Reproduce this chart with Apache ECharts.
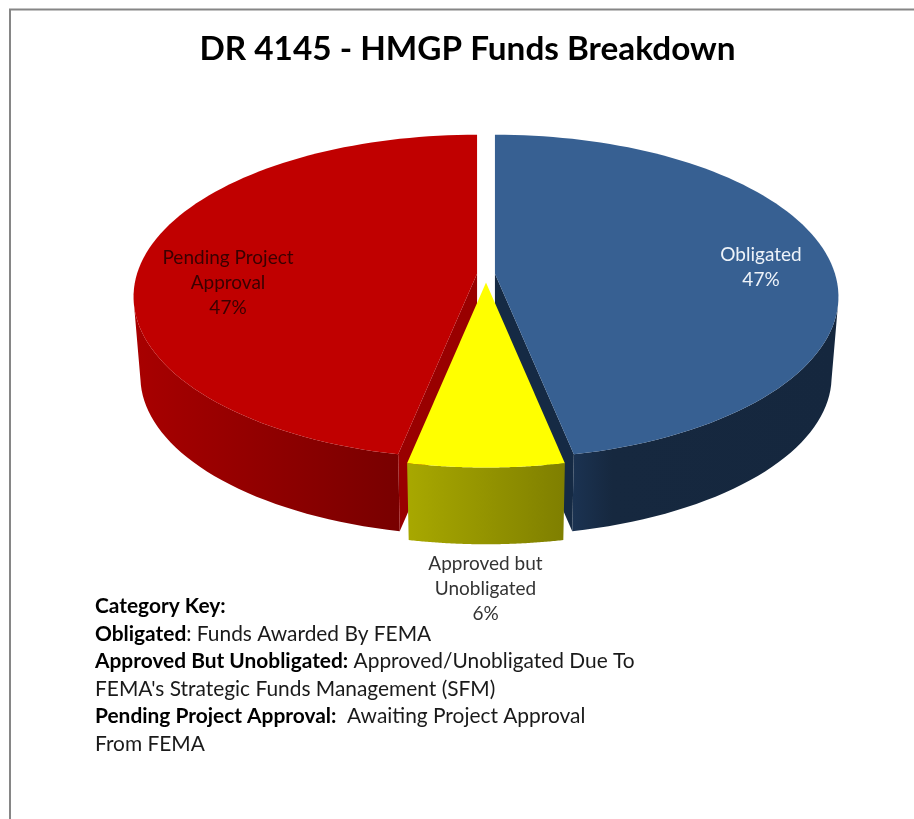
<!DOCTYPE html>
<html>
<head>
<meta charset="utf-8">
<title>DR 4145 - HMGP Funds Breakdown</title>
<style>
  html, body { margin: 0; padding: 0; background: #fff; }
  #chart { width: 914px; height: 819px; }
</style>
<script src="https://cdn.jsdelivr.net/npm/echarts@6/dist/echarts.min.js"></script>
</head>
<body>
<div id="chart"></div>
<script>
const sliceNames = ['Obligated', 'Approved but\nUnobligated', 'Pending Project\nApproval'];
const sliceValues = [46.8, 6.4, 46.8];

const keyLines = [
  [['b', 'Category Key:']],
  [['b', 'Obligated'], ['r', ': Funds Awarded By FEMA']],
  [['b', 'Approved But Unobligated:'], ['r', ' Approved/Unobligated Due To']],
  [['r', "FEMA's Strategic Funds Management (SFM)"]],
  [['b', 'Pending Project Approval:'], ['r', '  Awaiting Project Approval']],
  [['r', 'From FEMA']],
];

const FONT = 'Lato, sans-serif';

const topColors = ['#376092', '#ffff00', '#c00000'];
const faceColors = ['#152a44', '#7f7f00', '#990000'];
const wallStops = [
  [[0, '#1b3352'], [0.15, '#16283f'], [1, '#15273e']],
  [[0, '#a8a800'], [1, '#7f7f00']],
  [[0, '#a80000'], [1, '#780000']],
];
const labelColors = ['#eef3f9', '#333333', '#3a0000'];
const labelCenters = [[761, 267], [485.5, 589], [228, 283]];

// tilted pie geometry, the circle goes through a small perspective
const PIE = { cx: 486, cy: 297.5, rx: 343.5, ry: 162, persp: 0.142, depth: 80, shrink: 0.98, popX: 9, popY: 8 };

const total = sliceValues.reduce((a, b) => a + b, 0);

function project(theta, radius) {
  const u = Math.sin(theta) * radius;
  const v = -Math.cos(theta) * radius;
  const w = 1 - PIE.persp * v;
  const ax = PIE.rx * Math.sqrt(1 - PIE.persp * PIE.persp);
  return [ax * u / w, PIE.ry * (v - PIE.persp) / w];
}

function topPt(p, ox, oy) {
  return [PIE.cx + ox + p[0], PIE.cy + oy + p[1]];
}

function bottomPt(p, ox, oy) {
  return [PIE.cx + ox + p[0] * PIE.shrink, PIE.cy + oy + p[1] * PIE.shrink + PIE.depth];
}

function renderSlice(params, api) {
  const idx = params.dataIndex;
  let before = 0;
  for (let i = 0; i < idx; i++) before += sliceValues[i];
  const start = before / total * Math.PI * 2;
  const end = (before + api.value(0)) / total * Math.PI * 2;
  const mid = (start + end) / 2;
  const ox = Math.sin(mid) * PIE.popX;
  const oy = -Math.cos(mid) * PIE.popY;

  const steps = 90;
  const apex = project(0, 0);
  const top = [topPt(apex, ox, oy)];
  const frontTop = [];
  const frontBottom = [];
  for (let i = 0; i <= steps; i++) {
    const t = start + (end - start) * i / steps;
    const p = project(t, 1);
    top.push(topPt(p, ox, oy));
    // only the front part of the rim shows a wall
    if (-Math.cos(t) >= PIE.persp) {
      frontTop.push(topPt(p, ox, oy));
      frontBottom.unshift(bottomPt(p, ox, oy));
    }
  }

  const children = [];
  children.push({
    type: 'polygon',
    z2: idx === 1 ? 3 : 1,
    shape: { points: frontTop.concat(frontBottom) },
    style: { fill: new echarts.graphic.LinearGradient(0, 0, 1, 0, wallStops[idx].map(s => ({ offset: s[0], color: s[1] }))) },
  });
  // cut faces: the narrow front slice turns them away from the viewer
  if (end - start > Math.PI / 2) {
    [start, end].forEach((t) => {
      if (-Math.cos(t) < PIE.persp) return;
      const p = project(t, 1);
      children.push({
        type: 'polygon',
        z2: 2,
        shape: { points: [topPt(apex, ox, oy), topPt(p, ox, oy), bottomPt(p, ox, oy), bottomPt(apex, ox, oy)] },
        style: { fill: faceColors[idx] },
      });
    });
  }
  children.push({
    type: 'polygon',
    z2: 5,
    shape: { points: top },
    style: { fill: topColors[idx] },
  });
  children.push({
    type: 'text',
    z2: 6,
    style: {
      x: labelCenters[idx][0],
      y: labelCenters[idx][1],
      text: sliceNames[idx] + '\n' + Math.round(api.value(0) / total * 100) + '%',
      align: 'center',
      verticalAlign: 'middle',
      fill: labelColors[idx],
      font: '19px ' + FONT,
      lineHeight: 25,
    },
  });
  return { type: 'group', children };
}

const chart = echarts.init(document.getElementById('chart'), null, { renderer: 'canvas' });

const option = {
  animation: false,
  backgroundColor: '#ffffff',
  title: {
    text: 'DR 4145 - HMGP Funds Breakdown',
    left: 462.5,
    top: 28,
    textAlign: 'center',
    textStyle: { fontFamily: FONT, fontSize: 33.3, fontWeight: 'bold', color: '#000000' },
  },
  series: [{
    type: 'custom',
    coordinateSystem: 'none',
    silent: true,
    renderItem: renderSlice,
    data: sliceValues,
  }],
  graphic: [
    {
      type: 'rect',
      silent: true,
      shape: { x: 10, y: 9.5, width: 960, height: 900 },
      style: { fill: 'none', stroke: '#868686', lineWidth: 2 },
    },
    {
      type: 'text',
      silent: true,
      x: 95,
      y: 592.5,
      style: {
        text: keyLines.map(line => line.map(part => '{' + part[0] + '|' + part[1] + '}').join('')).join('\n'),
        rich: {
          b: { font: 'bold 20.9px ' + FONT, fill: '#000000', lineHeight: 27.6 },
          r: { font: '20.9px ' + FONT, fill: '#1a1a1a', lineHeight: 27.6 },
        },
      },
    },
  ],
};

chart.setOption(option);
</script>
</body>
</html>
